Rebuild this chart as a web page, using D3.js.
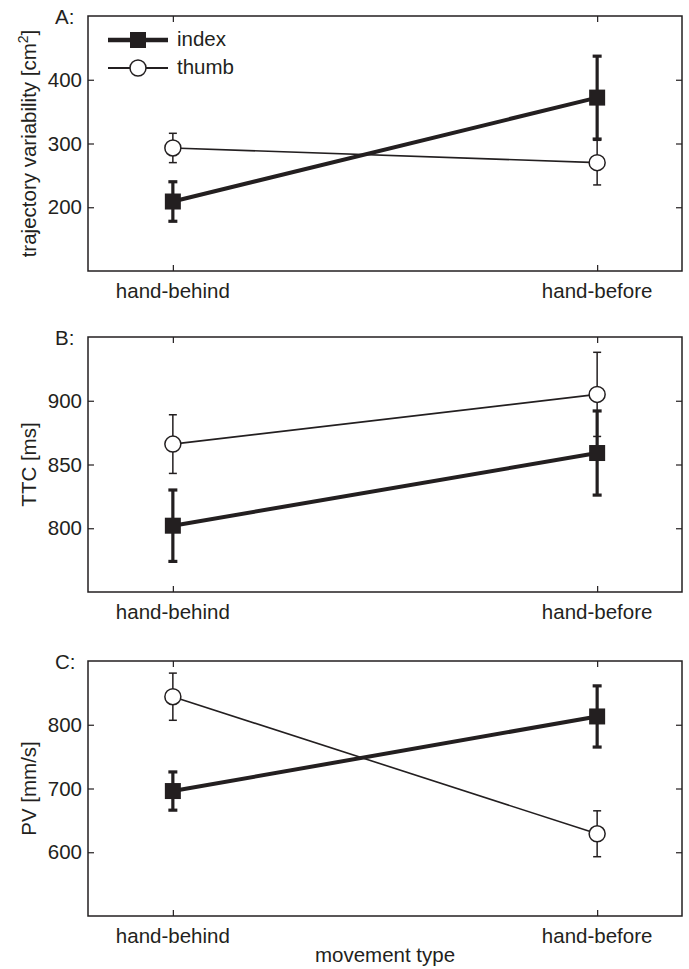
<!DOCTYPE html>
<html>
<head>
<meta charset="utf-8">
<script src="https://cdn.jsdelivr.net/npm/d3@7"></script>
<style>
  body { margin: 0; background: #fff; }
  text { font-family: "Liberation Sans", Arial, sans-serif; fill: #231f20; }
</style>
</head>
<body>
<div id="chart"></div>
<script>
// categories on the x axis
var categories = ["hand-behind", "hand-before"];

// panel A: trajectory variability
var trajIndex = [209, 372];
var trajIndexErr = [31, 65];
var trajThumb = [293, 270];
var trajThumbErr = [23, 35];

// panel B: TTC
var ttcIndex = [802, 859];
var ttcIndexErr = [28, 33];
var ttcThumb = [866, 905];
var ttcThumbErr = [23, 33];

// panel C: PV
var pvIndex = [696, 813];
var pvIndexErr = [30, 48];
var pvThumb = [844, 629];
var pvThumbErr = [37, 36];

var panels = [
  { tag: "A:", ylabel: "trajectory variability [cm", sup: "2", domain: [100, 500], ticks: [200, 300, 400],
    index: trajIndex, indexErr: trajIndexErr, thumb: trajThumb, thumbErr: trajThumbErr, top: 16, legend: true },
  { tag: "B:", ylabel: "TTC [ms]", domain: [750, 950], ticks: [800, 850, 900],
    index: ttcIndex, indexErr: ttcIndexErr, thumb: ttcThumb, thumbErr: ttcThumbErr, top: 337 },
  { tag: "C:", ylabel: "PV [mm/s]", domain: [500, 900], ticks: [600, 700, 800],
    index: pvIndex, indexErr: pvIndexErr, thumb: pvThumb, thumbErr: pvThumbErr, top: 661, xlabel: "movement type" }
];

var W = 689, H = 969;
var left = 88, right = 682, ph = 255;
var ink = "#231f20";
var fs = 20.5;

var svg = d3.select("#chart").append("svg")
  .attr("width", W).attr("height", H);

var x = d3.scalePoint().domain(categories).range([left, right]).padding(0.2);

panels.forEach(function(p) {
  var y = d3.scaleLinear().domain(p.domain).range([p.top + ph, p.top]);
  var g = svg.append("g");

  // ticks inward on all four sides
  var ax = function(axis) { return axis.tickSizeInner(6).tickSizeOuter(0).tickPadding(8); };
  g.append("g").attr("transform", "translate(0," + (p.top + ph) + ")")
    .call(ax(d3.axisTop(x)).tickFormat(""));
  g.append("g").attr("transform", "translate(0," + p.top + ")")
    .call(ax(d3.axisBottom(x)).tickFormat(""));
  g.append("g").attr("transform", "translate(" + left + ",0)")
    .call(ax(d3.axisRight(y)).tickValues(p.ticks).tickFormat(""));
  g.append("g").attr("transform", "translate(" + right + ",0)")
    .call(ax(d3.axisLeft(y)).tickValues(p.ticks).tickFormat(""));
  g.selectAll(".domain").remove();
  g.selectAll(".tick line").attr("stroke", ink).attr("stroke-width", 1.2);

  // tick labels
  g.selectAll(".ylab").data(p.ticks).enter().append("text")
    .attr("x", left - 6).attr("y", function(d) { return y(d) + 7; })
    .attr("text-anchor", "end").attr("font-size", fs)
    .text(function(d) { return d; });
  g.selectAll(".xlab").data(categories).enter().append("text")
    .attr("x", function(d) { return x(d); }).attr("y", p.top + ph + 27)
    .attr("text-anchor", "middle").attr("font-size", fs)
    .text(function(d) { return d; });

  // box
  g.append("rect").attr("x", left).attr("y", p.top)
    .attr("width", right - left).attr("height", ph)
    .attr("fill", "none").attr("stroke", ink).attr("stroke-width", 1.5);

  // panel tag
  g.append("text").attr("x", 55).attr("y", p.top + 8)
    .attr("font-size", fs).text(p.tag);

  // y label
  var yl = g.append("text")
    .attr("transform", "translate(36," + (p.top + ph / 2) + ") rotate(-90)")
    .attr("text-anchor", "middle").attr("font-size", fs)
    .text(p.ylabel);
  if (p.sup) {
    yl.append("tspan").attr("baseline-shift", "super").attr("font-size", 14).text(p.sup);
    yl.append("tspan").text("]");
  }

  if (p.xlabel) {
    g.append("text").attr("x", (left + right) / 2).attr("y", p.top + ph + 46)
      .attr("text-anchor", "middle").attr("font-size", fs).text(p.xlabel);
  }

  var line = d3.line().x(function(d, i) { return x(categories[i]); }).y(function(d) { return y(d); });

  function errorBars(vals, errs, sw, cap) {
    var e = g.append("g").attr("stroke", ink).attr("stroke-width", sw);
    vals.forEach(function(v, i) {
      var cx = x(categories[i]);
      e.append("line").attr("x1", cx).attr("x2", cx)
        .attr("y1", y(v - errs[i])).attr("y2", y(v + errs[i]));
      [v - errs[i], v + errs[i]].forEach(function(t) {
        e.append("line").attr("x1", cx - cap).attr("x2", cx + cap)
          .attr("y1", y(t)).attr("y2", y(t));
      });
    });
  }

  // thumb series
  errorBars(p.thumb, p.thumbErr, 1.5, 4);
  g.append("path").datum(p.thumb).attr("d", line)
    .attr("fill", "none").attr("stroke", ink).attr("stroke-width", 1.6);

  // index series
  errorBars(p.index, p.indexErr, 3.2, 4.5);
  g.append("path").datum(p.index).attr("d", line)
    .attr("fill", "none").attr("stroke", ink).attr("stroke-width", 4);

  g.selectAll(".thumbpt").data(p.thumb).enter().append("circle")
    .attr("cx", function(d, i) { return x(categories[i]); })
    .attr("cy", function(d) { return y(d); })
    .attr("r", 8).attr("fill", "#fff").attr("stroke", ink).attr("stroke-width", 1.5);
  g.selectAll(".indexpt").data(p.index).enter().append("rect")
    .attr("x", function(d, i) { return x(categories[i]) - 8; })
    .attr("y", function(d) { return y(d) - 8; })
    .attr("width", 16).attr("height", 16).attr("fill", ink);

  if (p.legend) {
    var lg = g.append("g");
    lg.append("line").attr("x1", 108).attr("x2", 168).attr("y1", 40).attr("y2", 40)
      .attr("stroke", ink).attr("stroke-width", 4.5);
    lg.append("rect").attr("x", 130).attr("y", 32).attr("width", 16).attr("height", 16).attr("fill", ink);
    lg.append("text").attr("x", 177).attr("y", 46).attr("font-size", fs).text("index");
    lg.append("line").attr("x1", 108).attr("x2", 168).attr("y1", 68).attr("y2", 68)
      .attr("stroke", ink).attr("stroke-width", 2);
    lg.append("circle").attr("cx", 138).attr("cy", 68).attr("r", 8)
      .attr("fill", "#fff").attr("stroke", ink).attr("stroke-width", 1.5);
    lg.append("text").attr("x", 177).attr("y", 74).attr("font-size", fs).text("thumb");
  }
});
</script>
</body>
</html>
